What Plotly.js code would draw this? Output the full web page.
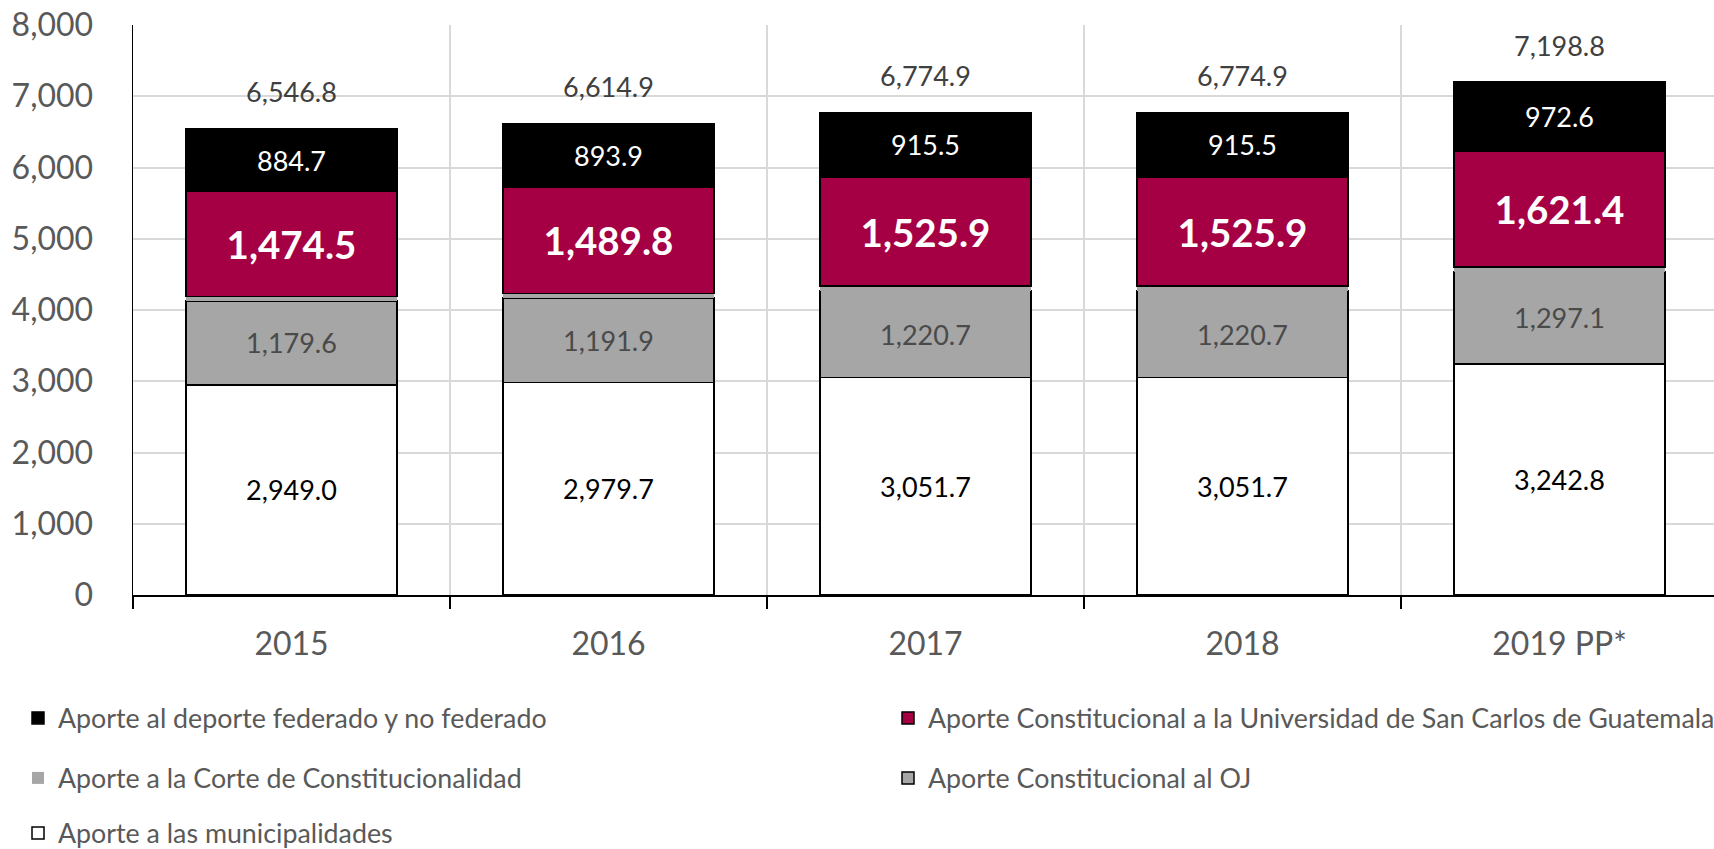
<!DOCTYPE html>
<html>
<head>
<meta charset="utf-8">
<script src="https://cdn.plot.ly/plotly-3.0.1.min.js"></script>
<style>
  html, body { margin: 0; padding: 0; background: #ffffff; }
  #chart { width: 1714px; height: 849px; }
</style>
</head>
<body>
<div id="chart"></div>
<script>
// ---- data ----
const years = ["2015", "2016", "2017", "2018", "2019 PP*"];
const municipalidades = [2949.0, 2979.7, 3051.7, 3051.7, 3242.8];
const organismoJudicial = [1179.6, 1191.9, 1220.7, 1220.7, 1297.1];
const corteConstitucionalidad = [59.0, 59.6, 61.1, 61.1, 64.9];
const usac = [1474.5, 1489.8, 1525.9, 1525.9, 1621.4];
const deporte = [884.7, 893.9, 915.5, 915.5, 972.6];
const totales = [6546.8, 6614.9, 6774.9, 6774.9, 7198.8];

const names = {
  deporte: "Aporte al deporte federado y no federado",
  usac: "Aporte Constitucional a la Universidad de San Carlos de Guatemala",
  cc: "Aporte a la Corte de Constitucionalidad",
  oj: "Aporte Constitucional al OJ",
  muni: "Aporte a las municipalidades"
};

const FONT = "Lato, 'Open Sans', sans-serif";
const idx = years.map((_, i) => i);

function barTrace(values, name, fill, lineW, textColor, textSize, bold, legendId, showText) {
  return {
    type: "bar",
    x: idx,
    y: values,
    name: name,
    legend: legendId,
    marker: { color: fill, line: { color: "#000000", width: lineW } },
    texttemplate: showText ? (bold ? "<b>%{y:,.1f}</b>" : "%{y:,.1f}") : "",
    textposition: showText ? "inside" : "none",
    insidetextanchor: "middle",
    constraintext: "none",
    textangle: 0,
    textfont: { family: FONT, size: textSize, color: textColor },
    hoverinfo: "skip"
  };
}

const traces = [
  barTrace(municipalidades, names.muni, "#ffffff", 1.5, "#000000", 27, false, "legend5", true),
  barTrace(organismoJudicial, names.oj, "#a6a6a6", 1.5, "#4a4a4a", 27, false, "legend4", true),
  barTrace(corteConstitucionalidad, names.cc, "#a6a6a6", 0, "#000000", 27, false, "legend3", false),
  barTrace(usac, names.usac, "#a50044", 1.5, "#ffffff", 38.5, true, "legend2", true),
  barTrace(deporte, names.deporte, "#000000", 1.5, "#ffffff", 27, false, "legend", true),
  {
    type: "scatter",
    mode: "markers+text",
    x: idx,
    y: totales,
    text: totales.map(v => v.toLocaleString("en-US", { minimumFractionDigits: 1, maximumFractionDigits: 1 })),
    textposition: "top center",
    textfont: { family: FONT, size: 27, color: "#404040" },
    marker: { size: 30, color: "rgba(0,0,0,0)" },
    showlegend: false,
    hoverinfo: "skip",
    cliponaxis: false
  }
];

// plot area: x 133..1714, y 25..595
const plotL = 133, plotW = 1714 - 133, plotT = 25, plotH = 570;
const px2x = p => (p - plotL) / plotW;
const py2y = p => (plotT + plotH - p) / plotH;

function legendAt(pxLeft, pyCenter) {
  return {
    orientation: "h",
    x: px2x(pxLeft), xanchor: "left",
    y: py2y(pyCenter), yanchor: "middle",
    font: { family: FONT, size: 26.8, color: "#595959" },
    bgcolor: "rgba(0,0,0,0)",
    borderwidth: 0,
    traceorder: "normal"
  };
}

const layout = {
  width: 1714,
  height: 849,
  paper_bgcolor: "#ffffff",
  plot_bgcolor: "#ffffff",
  margin: { l: plotL, r: 0, t: plotT, b: 849 - plotT - plotH, autoexpand: false },
  barmode: "stack",
  bargap: 0.333,
  font: { family: FONT, color: "#595959" },
  showlegend: true,
  xaxis: {
    type: "linear",
    range: [-0.5, -0.5 + plotW / 317],
    tickvals: idx,
    ticktext: years,
    showgrid: false,
    minor: { tickvals: [-0.5, 0.5, 1.5, 2.5, 3.5, 4.5], showgrid: true, gridcolor: "#d9d9d9", gridwidth: 2, ticks: "outside", ticklen: 12, tickcolor: "#000000", tickwidth: 1.5 },
    ticks: "",
    showline: true,
    linecolor: "#000000",
    linewidth: 1.5,
    tickfont: { family: FONT, size: 32, color: "#595959" },
    ticklabelstandoff: 20,
    zeroline: false,
    fixedrange: true
  },
  yaxis: {
    range: [0, 8000],
    tickvals: [0, 1000, 2000, 3000, 4000, 5000, 6000, 7000, 8000],
    tickformat: ",d",
    showgrid: true,
    gridcolor: "#d9d9d9",
    gridwidth: 2,
    showline: true,
    linecolor: "#000000",
    linewidth: 1.5,
    ticks: "",
    tickfont: { family: FONT, size: 32, color: "#595959" },
    ticklabelstandoff: 32,
    zeroline: false,
    fixedrange: true
  },
  legend: legendAt(18, 718),
  legend2: legendAt(888, 718),
  legend3: legendAt(18, 778),
  legend4: legendAt(888, 778),
  legend5: legendAt(18, 833)
};

Plotly.newPlot("chart", traces, layout, { displayModeBar: false, staticPlot: true });
</script>
</body>
</html>
